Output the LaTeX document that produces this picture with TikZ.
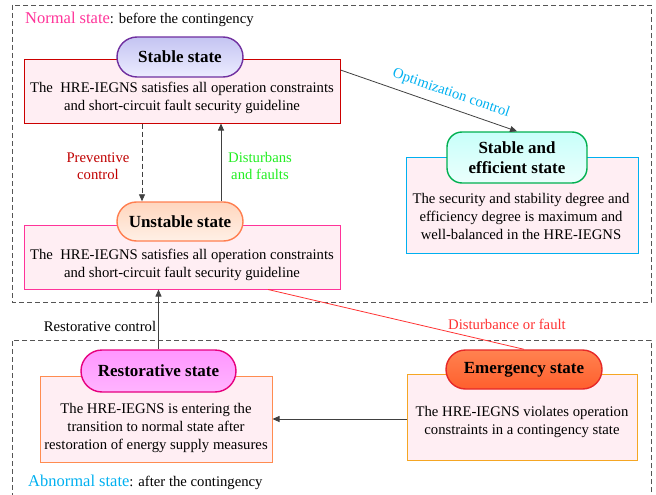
\documentclass[tikz,border=0pt]{standalone}
\usepackage{fontspec}
\setmainfont{Liberation Serif}
\usetikzlibrary{arrows.meta,shapes.misc}
\definecolor{boxfill}{HTML}{FFEEF3}
\definecolor{arrowgrey}{HTML}{404040}
\definecolor{dashgrey}{HTML}{555555}
\definecolor{normalpink}{HTML}{FF3399}
\definecolor{abncyan}{HTML}{00B0F0}
\definecolor{prevred}{HTML}{C00000}
\definecolor{distgreen}{HTML}{22EE22}
\definecolor{faultred}{HTML}{FF3333}
\tikzset{
  region/.style={draw=dashgrey, line width=0.8pt, dash pattern=on 5pt off 3pt},
  infobox/.style={draw, line width=1pt, fill=boxfill, minimum width=#1, inner sep=0pt},
  statepill/.style={rounded rectangle, draw, line width=1.4pt, inner sep=0pt,
    font=\fontsize{17}{19}\selectfont\bfseries, align=center},
  bodytext/.style={font=\fontsize{14.7}{18}\selectfont, align=center},
  lbl/.style={font=\fontsize{14.7}{17.5}\selectfont, align=center},
  flow/.style={draw=arrowgrey, line width=0.8pt, -{Triangle[length=7pt,width=6pt]}},
}
\begin{document}
\begin{tikzpicture}[x=1pt,y=-1pt]
\useasboundingbox (0,0) rectangle (656,495);

% regions
\draw[region] (12,5) rectangle (651,302);
\draw[region] (651,500) -- (651,340) -- (12,340) -- (12,500);
\node[anchor=base west, inner sep=0pt] (normalLbl) at (25,24)
  {\textcolor{normalpink}{\fontsize{16.5}{18}\selectfont Normal state}\fontsize{14.7}{16}\selectfont: before the contingency};
\node[anchor=base west, inner sep=0pt] (abnLbl) at (28,486)
  {\textcolor{abncyan}{\fontsize{16.5}{18}\selectfont Abnormal state}\fontsize{14.7}{16}\selectfont: after the contingency};

% information boxes
\node[infobox=316pt, minimum height=63pt, draw=red!80!black] (sbox) at (182,91.5) {};
\node[infobox=316pt, minimum height=64pt, draw=normalpink] (ubox) at (182,257) {};
\node[infobox=232pt, minimum height=96pt, draw=abncyan] (fbox) at (522,205) {};
\node[infobox=232pt, minimum height=86pt, draw={rgb,255:red,255;green,140;blue,80}] (rbox) at (156,419) {};
\node[infobox=230pt, minimum height=86pt, draw={rgb,255:red,245;green,166;blue,35}] (ebox) at (522,417) {};

\node[bodytext] (stxt) at (182,98) {The\ \ HRE-IEGNS satisfies all operation constraints\\and short-circuit fault security guideline};
\node[bodytext] (utxt) at (182,264.5) {The\ \ HRE-IEGNS satisfies all operation constraints\\and short-circuit fault security guideline};
\node[bodytext] (ftxt) at (521,216.5) {The security and stability degree and\\efficiency degree is maximum and\\well-balanced in the HRE-IEGNS};
\node[bodytext] (rtxt) at (156,428) {The HRE-IEGNS is entering the\\transition to normal state after\\restoration of energy supply measures};
\node[bodytext] (etxt) at (522,422) {The HRE-IEGNS violates operation\\constraints in a contingency state};

% state pills
\node[statepill, draw={rgb,255:red,112;green,48;blue,160}, top color={rgb,255:red,196;green,196;blue,242}, bottom color={rgb,255:red,236;green,236;blue,255},
  minimum width=126pt, minimum height=40pt] (spill) at (180,57) {Stable state};
\node[statepill, draw={rgb,255:red,255;green,127;blue,80}, top color={rgb,255:red,255;green,214;blue,190}, bottom color={rgb,255:red,255;green,240;blue,230},
  minimum width=126pt, minimum height=39pt] (upill) at (180,221.5) {Unstable state};
\node[draw={rgb,255:red,0;green,176;blue,80}, line width=1.4pt, rounded corners=15pt, inner sep=0pt,
  top color={rgb,255:red,200;green,255;blue,250}, bottom color={rgb,255:red,235;green,255;blue,252},
  minimum width=140pt, minimum height=51pt, font=\fontsize{17}{20}\selectfont\bfseries, align=center]
  (fpill) at (517,157.5) {Stable and\\efficient state};
\node[statepill, draw={rgb,255:red,230;green,0;blue,126}, top color={rgb,255:red,255;green,150;blue,255}, bottom color={rgb,255:red,255;green,180;blue,255},
  minimum width=155pt, minimum height=42pt] (rpill) at (158.5,371) {Restorative state};
\node[statepill, draw={rgb,255:red,230;green,40;blue,40}, top color={rgb,255:red,255;green,130;blue,80}, bottom color={rgb,255:red,255;green,95;blue,45},
  minimum width=156pt, minimum height=39pt] (epill) at (524,369.5) {Emergency state};

% transitions
\draw[flow] ([yshift=21.5pt]sbox.east) -- (fpill.north)
  node[pos=0.6, sloped, above, lbl, text=abncyan, inner sep=7pt] (optLbl) {Optimization control};
\draw[flow, dash pattern=on 5pt off 3pt] ([xshift=-40pt]sbox.south) -- ([xshift=-38pt]upill.north);
\draw[flow] ([xshift=41pt]upill.north) -- ([xshift=39pt]sbox.south);
\draw[flow] (rpill.north) -- ([xshift=-23.5pt]ubox.south);
\draw[draw=faultred, line width=0.8pt] ([xshift=86pt]ubox.south) -- (epill.north);
\draw[flow] (ebox.west |- rbox.east) -- (rbox.east);

\node[lbl, text=prevred] (prevLbl) at (98,166) {Preventive\\control};
\node[lbl, text=distgreen] (distLbl) at (260,166) {Disturbans\\and faults};
\node[lbl] (restLbl) at (100,326) {Restorative control};
\node[lbl, text=faultred] (faultLbl) at (507,324) {Disturbance or fault};
\end{tikzpicture}
\end{document}
